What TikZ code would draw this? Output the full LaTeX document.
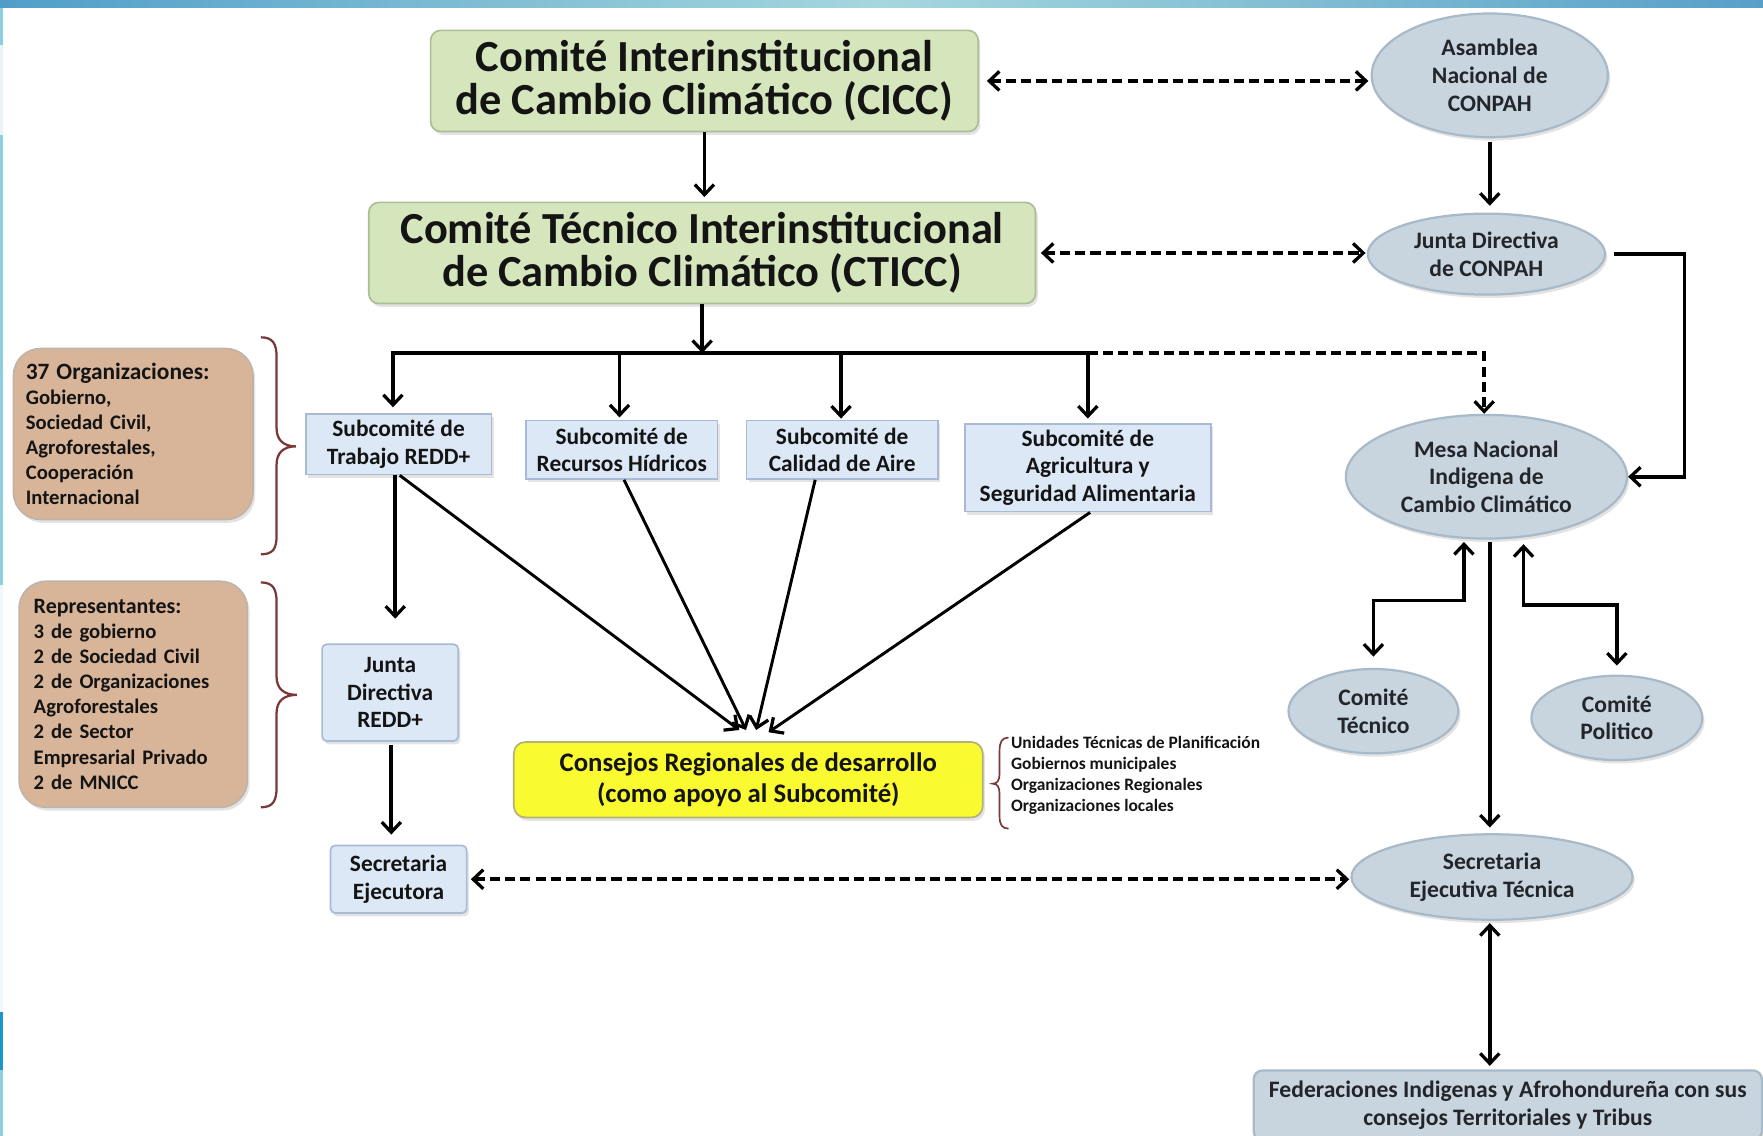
\documentclass[tikz,border=0pt]{standalone}
\usepackage{fontspec}
\setmainfont{Carlito}
\usetikzlibrary{arrows.meta,shapes.geometric,shadows}

\definecolor{greenfill}{RGB}{213,229,188}
\definecolor{greenline}{RGB}{172,190,152}
\definecolor{subfill}{RGB}{221,232,246}
\definecolor{subline}{RGB}{168,186,212}
\definecolor{tanfill}{RGB}{216,181,153}
\definecolor{tanline}{RGB}{192,180,170}
\definecolor{yelfill}{RGB}{250,250,48}
\definecolor{yelline}{RGB}{178,178,120}
\definecolor{ellfill}{RGB}{200,213,223}
\definecolor{ellline}{RGB}{168,186,200}
\definecolor{bracecol}{RGB}{122,56,56}
\definecolor{txt}{RGB}{20,20,20}
\definecolor{etxt}{RGB}{34,38,42}
\definecolor{topA}{RGB}{80,158,200}
\definecolor{topB}{RGB}{165,215,222}
\definecolor{topC}{RGB}{88,160,200}
\definecolor{sideA}{RGB}{140,205,222}
\definecolor{sideB}{RGB}{26,150,204}

\tikzset{
  base/.style={inner sep=0pt, align=center, text=txt},
  shd/.style={drop shadow={opacity=0.22, shadow xshift=2pt, shadow yshift=-3pt}},
  bigbox/.style={base, shd, rounded corners=9pt, fill=greenfill, draw=greenline, line width=1.5pt,
    font=\bfseries\fontsize{39.5}{38.5}\selectfont},
  subbox/.style={base, shd, fill=subfill, draw=subline, line width=1.5pt,
    font=\bfseries\fontsize{20.8}{24.5}\selectfont},
  tanbox/.style={base, shd, rounded corners=24pt, fill=tanfill, draw=tanline, line width=1.5pt,
    align=left, font=\bfseries\fontsize{18.4}{22.3}\selectfont},
  ell/.style={base, shd, ellipse, fill=ellfill, draw=ellline, line width=2pt, text=etxt,
    font=\bfseries\fontsize{21}{24.5}\selectfont},
  ln/.style={line width=3.2pt, draw=black},
  tip/.tip={Straight Barb[length=9pt,width=17pt,line width=2.9pt]},
  ar/.style={ln, -tip},
  dar/.style={ln, tip-tip},
  dsh/.style={dash pattern=on 9pt off 4.5pt},
  brc/.style={draw=bracecol, line width=2pt},
}

\begin{document}
\begin{tikzpicture}[x=1pt,y=-1pt]
\useasboundingbox (0,0) rectangle (1568,1010);
\fill[white] (0,0) rectangle (1568,1010);
% slide decoration
\shade[left color=topA, right color=topC, middle color=topB] (0,0) rectangle (1568,7);
\fill[sideA] (0,7) rectangle (3,1010);
\fill[white!80!sideA] (0,40) rectangle (3,120);
\fill[white!85!sideA] (0,520) rectangle (3,900);
\fill[sideB] (0,900) rectangle (3,952);

% main committees
\node[bigbox, minimum width=487pt, minimum height=90pt] (cicc) at (626.5,72)
  {Comité Interinstitucional\\de Cambio Climático (CICC)};
\node[bigbox, minimum width=593pt, minimum height=90pt] (cticc) at (624.5,225)
  {Comité Técnico Interinstitucional\\de Cambio Climático (CTICC)};

% CONPAH side
\node[ell, minimum width=210pt, minimum height=110pt] (asam) at (1325,67)
  {Asamblea\\Nacional de\\CONPAH};
\node[ell, minimum width=211pt, minimum height=72pt] (jdc) at (1322,226)
  {Junta Directiva\\de CONPAH};
\node[ell, minimum width=250pt, minimum height=110pt] (mesa) at (1322,424)
  {Mesa Nacional\\Indigena de\\Cambio Climático};
\node[ell, minimum width=151pt, minimum height=75pt] (ct) at (1221.5,632.5)
  {Comité\\Técnico};
\node[ell, minimum width=152pt, minimum height=75pt] (cp) at (1438,638.5)
  {Comité\\Politico};
\node[ell, minimum width=250pt, minimum height=76pt] (set) at (1327,780)
  {Secretaria\\Ejecutiva Técnica};
\node[base, shd, rounded corners=8pt, fill=ellfill, draw=ellline, line width=2pt, text=etxt,
  font=\bfseries\fontsize{21}{25}\selectfont, minimum width=452pt, minimum height=62pt] (fed) at (1341,983)
  {Federaciones Indigenas y Afrohondureña con sus\\consejos Territoriales y Tribus};

% subcommittees
\node[subbox, minimum width=165pt, minimum height=54pt] (trab) at (354.5,395)
  {Subcomité de\\Trabajo REDD+};
\node[subbox, minimum width=170pt, minimum height=52pt] (rec) at (553,400)
  {Subcomité de\\Recursos Hídricos};
\node[subbox, minimum width=170pt, minimum height=52pt] (cal) at (749,400)
  {Subcomité de\\Calidad de Aire};
\node[subbox, minimum width=219pt, minimum height=78pt] (agr) at (967.5,416)
  {Subcomité de\\Agricultura y\\Seguridad Alimentaria};
\node[subbox, rounded corners=4pt, minimum width=121pt, minimum height=86pt] (jdr) at (347,616)
  {Junta\\Directiva\\REDD+};
\node[subbox, rounded corners=4pt, minimum width=121pt, minimum height=60pt] (sej) at (354.5,782)
  {Secretaria\\Ejecutora};

% regional councils
\node[base, shd, rounded corners=10pt, fill=yelfill, draw=yelline, line width=1.5pt,
  font=\bfseries\fontsize{23.8}{28}\selectfont, minimum width=417pt, minimum height=67pt] (cons) at (665.5,693.5)
  {Consejos Regionales de desarrollo\\(como apoyo al Subcomité)};
\node[base, anchor=north west, align=left, font=\bfseries\fontsize{15.5}{18.5}\selectfont] (lista) at (899,655)
  {Unidades Técnicas de Planificación\\Gobiernos municipales\\Organizaciones Regionales\\Organizaciones locales};

% left boxes
\node[tanbox, minimum width=213pt, minimum height=152pt, text width=191pt] (org) at (118.5,386)
  {{\fontsize{20.8}{22.3}\selectfont 37 Organizaciones:}\\Gobierno,\\Sociedad Civil,\\Agroforestales,\\Cooperación\\Internacional};
\node[tanbox, minimum width=203pt, minimum height=201pt, text width=177pt] (rep) at (118.5,617.5)
  {{\fontsize{19.5}{22.3}\selectfont Representantes:}\\3 de gobierno\\2 de Sociedad Civil\\2 de Organizaciones\\Agroforestales\\2 de Sector\\Empresarial Privado\\2 de MNICC};

% braces
\draw[brc] (232,300) .. controls (243,300) and (246,306) .. (246,318) -- (246,381)
  .. controls (246,391) and (252,397) .. (263,397) .. controls (252,397) and (246,403) .. (246,413)
  -- (246,476) .. controls (246,488) and (243,493) .. (232,493);
\draw[brc] (232,518) .. controls (243,518) and (246,524) .. (246,536) -- (246,602)
  .. controls (246,612) and (252,618) .. (264,618) .. controls (252,618) and (246,624) .. (246,634)
  -- (246,700) .. controls (246,712) and (243,718) .. (232,718);
\draw[brc, line width=1.5pt] (897,656) .. controls (891,656) and (889,660) .. (889,668) -- (889,688)
  .. controls (889,694) and (887,697) .. (883,697) .. controls (887,697) and (889,700) .. (889,706)
  -- (889,726) .. controls (889,733) and (891,737) .. (897,737);

% connectors: top
\draw[ar, shorten >=4pt] (cicc.south) -- (cicc.south |- cticc.north);
\draw[dar, dsh, shorten <=7pt, shorten >=2pt] (cicc.east) -- (cicc.east -| asam.west);
\draw[dar, dsh, shorten <=4pt, shorten >=1pt] (cticc.east) -- (cticc.east -| jdc.west);
\draw[ar, shorten <=3pt, shorten >=6pt] (asam.south) -- (asam.south |- jdc.north);
\draw[ar] ([xshift=7pt]jdc.east) -| ([xshift=50pt]mesa.east) -- (mesa.east);

% bus
\coordinate (busy) at (0,314);
\draw[ar] (cticc.south) -- (cticc.south |- busy);
\draw[ln] ([xshift=-6.6pt]trab.north |- busy) -- (agr.north |- busy);
\draw[ar, shorten >=5pt] ([xshift=-5pt]trab.north |- busy) -- ([xshift=-5pt]trab.north);
\draw[ar, shorten >=2pt] ([xshift=-2pt]rec.north |- busy) -- ([xshift=-2pt]rec.north);
\draw[ar, shorten >=1pt] ([xshift=-1pt]cal.north |- busy) -- ([xshift=-1pt]cal.north);
\draw[ar, shorten >=4pt] (agr.north |- busy) -- (agr.north);
\draw[ln, dsh, -tip] (agr.north |- busy) -- ([xshift=-2pt]mesa.north |- busy) -- ([xshift=-2pt]mesa.north);

% converging to regional councils
\draw[ar, line width=2.6pt] ([xshift=1pt]trab.south) -- ([xshift=-8pt,yshift=10pt]cons.north);
\draw[ar, line width=2.6pt] ([xshift=2pt]rec.south) -- ([xshift=-2pt,yshift=10pt]cons.north);
\draw[ar, line width=2.6pt] ([xshift=-24pt]cal.south) -- ([xshift=7pt,yshift=10pt]cons.north);
\draw[ar, line width=2.6pt] ([xshift=2pt]agr.south) -- ([xshift=18pt,yshift=8pt]cons.north);

% left column
\draw[ar, shorten >=22pt] ([xshift=-3pt]trab.south) -- ([xshift=-3pt]trab.south |- jdr.north);
\draw[ar, shorten <=3pt, shorten >=9pt] ([xshift=1pt]jdr.south) -- ([xshift=1pt]jdr.south |- sej.north);
\draw[dar, dsh, shorten <=3pt, shorten >=1pt] (sej.east) -- (sej.east -| set.west);

% right column
\draw[dar, shorten <=2pt, shorten >=10pt] ([xshift=-20pt]mesa.south) -- ++(0,54) -| (ct.north);
\draw[dar, shorten <=4pt, shorten >=8pt] ([xshift=33pt]mesa.south) -- ++(0,58) -| (cp.north);
\draw[ar, shorten <=2pt, shorten >=5pt] ([xshift=3pt]mesa.south) -- ([xshift=3pt]mesa.south |- set.north);
\draw[dar, shorten <=2pt, shorten >=3pt] ([xshift=-2pt]set.south) -- ([xshift=-2pt]set.south |- fed.north);
\end{tikzpicture}
\end{document}
